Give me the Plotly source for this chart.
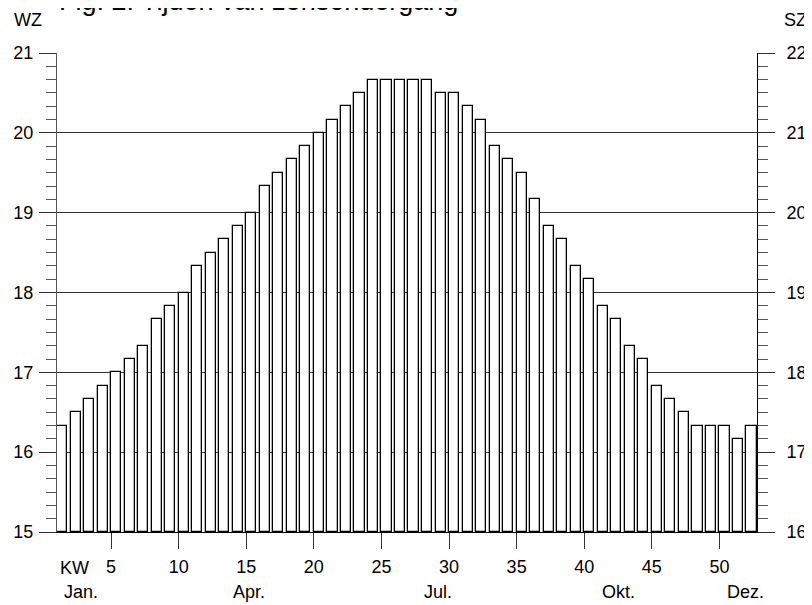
import plotly.graph_objects as go

# Data: sunset times (winter time, hours) per calendar week
weeks = list(range(1, 53))
sunset_wz = [
    16 + 20/60, 16.5, 16 + 40/60, 16 + 50/60, 17.0, 17 + 10/60, 17 + 20/60, 17 + 40/60,
    17 + 50/60, 18.0, 18 + 20/60, 18.5, 18 + 40/60, 18 + 50/60, 19.0, 19 + 20/60,
    19.5, 19 + 40/60, 19 + 50/60, 20.0, 20 + 10/60, 20 + 20/60, 20.5, 20 + 40/60,
    20 + 40/60, 20 + 40/60, 20 + 40/60, 20 + 40/60, 20.5, 20.5, 20 + 20/60, 20 + 10/60,
    19 + 50/60, 19 + 40/60, 19.5, 19 + 10/60, 18 + 50/60, 18 + 40/60, 18 + 20/60, 18 + 10/60,
    17 + 50/60, 17 + 40/60, 17 + 20/60, 17 + 10/60, 16 + 50/60, 16 + 40/60, 16.5, 16 + 20/60,
    16 + 20/60, 16 + 20/60, 16 + 10/60, 16 + 20/60,
]
wz_ticks = [15, 16, 17, 18, 19, 20, 21]
sz_ticks = [16, 17, 18, 19, 20, 21, 22]
kw_ticks = [5, 10, 15, 20, 25, 30, 35, 40, 45, 50]
months = ["Jan.", "Apr.", "Jul.", "Okt.", "Dez."]
month_pos = [2.78, 15.2, 29.2, 42.5, 51.9]

FONT = "Liberation Sans, Arial, sans-serif"

fig = go.Figure()
fig.add_trace(go.Bar(
    x=weeks, y=[v - 15 for v in sunset_wz], base=15,
    width=0.75, offset=0,
    marker=dict(color="white", line=dict(color="black", width=1.3)),
    showlegend=False, hoverinfo="skip",
))
# invisible trace for right axis
fig.add_trace(go.Scatter(x=[1], y=[16], yaxis="y2", mode="markers",
                         marker=dict(opacity=0), showlegend=False, hoverinfo="skip"))

fig.update_layout(
    width=804, height=597,
    margin=dict(l=49, r=55, t=45, b=73),
    paper_bgcolor="white", plot_bgcolor="white",
    font=dict(family=FONT, size=18, color="black"),
    bargap=0,
    xaxis=dict(
        range=[1, 52.78], tickmode="array", tickvals=kw_ticks,
        ticktext=[str(t) for t in kw_ticks],
        ticks="outside", ticklen=16, tickwidth=1, tickcolor="#333",
        showline=True, linecolor="black", linewidth=1,
        showgrid=False, zeroline=False, ticklabelstandoff=2,
        automargin=False,
    ),
    yaxis=dict(
        range=[15, 21], tickmode="array", tickvals=wz_ticks,
        ticks="outside", ticklen=17, tickwidth=1, tickcolor="#333",
        showgrid=True, gridcolor="#333", gridwidth=1,
        showline=True, linecolor="#555", linewidth=1, zeroline=False,
        minor=dict(dtick=1/6, tick0=15, ticks="outside", ticklen=10,
                   tickcolor="#555", tickwidth=1, showgrid=False),
        ticklabelstandoff=2, automargin=False,
    ),
    yaxis2=dict(
        range=[16, 22], tickmode="array", tickvals=sz_ticks,
        overlaying="y", side="right",
        ticks="outside", ticklen=17, tickwidth=1, tickcolor="#333",
        showgrid=False, showline=True, linecolor="black", linewidth=1,
        zeroline=False,
        minor=dict(dtick=1/6, tick0=16, ticks="outside", ticklen=10,
                   tickcolor="#555", tickwidth=1, showgrid=False),
        ticklabelstandoff=8, automargin=False,
    ),
)

annots = [
    dict(text="Fig. 2: Tijden van zonsondergang", x=0, y=1.074, xref="paper", yref="paper",
         xanchor="left", yanchor="bottom", showarrow=False, font=dict(size=27)),
    dict(text="WZ", x=-0.042, y=1.069, xref="paper", yref="paper",
         xanchor="center", yanchor="middle", showarrow=False),
    dict(text="SZ", x=1.055, y=1.069, xref="paper", yref="paper",
         xanchor="center", yanchor="middle", showarrow=False),
    dict(text="KW", x=2.3, y=-0.075, xref="x", yref="paper",
         xanchor="center", yanchor="middle", showarrow=False),
]
for m, p in zip(months, month_pos):
    annots.append(dict(text=m, x=p, y=-0.125, xref="x", yref="paper",
                       xanchor="center", yanchor="middle", showarrow=False))
fig.update_layout(annotations=annots)

fig.write_html("out.html")
